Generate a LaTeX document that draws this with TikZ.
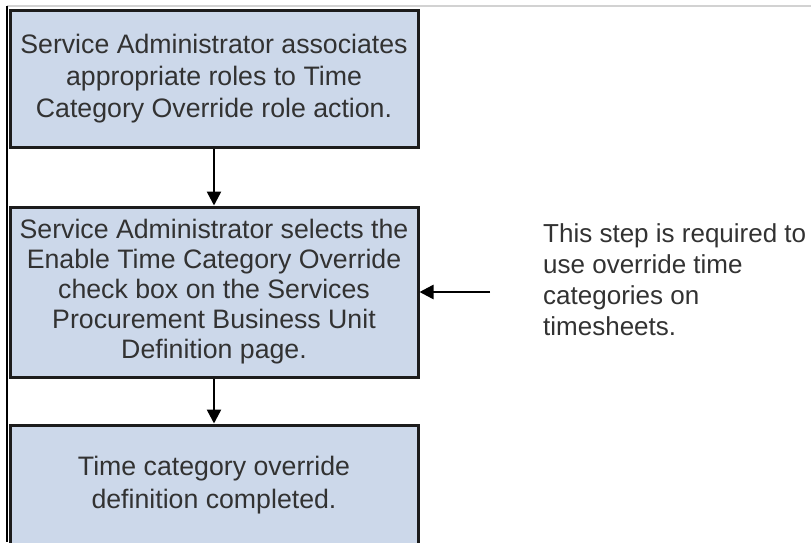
\documentclass[tikz,border=0pt]{standalone}
\usepackage{fontspec}
\setmainfont{Liberation Sans}
\usetikzlibrary{arrows.meta, positioning, shadows}

\definecolor{boxfill}{RGB}{204,216,234}
\definecolor{boxline}{RGB}{28,28,28}
\definecolor{txtgray}{RGB}{50,50,50}

\tikzset{
    stepbox/.style={draw=boxline, line width=3pt, fill=boxfill, minimum width=408pt,
        align=center, inner sep=0pt, text=txtgray,
        drop shadow={shadow xshift=1.5pt, shadow yshift=-1.5pt, fill=black, opacity=0.3}},
    flow/.style={line width=2.5pt, -{Triangle[width=14pt, length=14pt]}},
}

\begin{document}
\begin{tikzpicture}[x=1pt, y=-1pt]
    \clip (0, 0) rectangle (811, 542);

    % frame lines
    \draw[gray!35, line width=1.5pt] (7, 6) -- (811, 6);
    \draw[black, line width=2pt] (7, 6) -- (7, 542);

    % steps
    \node[stepbox, minimum height=137, font=\fontsize{26.7}{32}\selectfont] (assign) at (214, 78.5)
        {Service Administrator associates\\ appropriate roles to Time\\ Category Override role action.};
    \node[stepbox, minimum height=170, font=\fontsize{26.7}{30}\selectfont] (enable) at (214, 292)
        {Service Administrator selects the\\ Enable Time Category Override\\ check box on the Services\\ Procurement Business Unit\\ Definition page.};
    \node[stepbox, minimum height=120, font=\fontsize{26.7}{33}\selectfont] (done) at (214, 485)
        {Time category override\\ definition completed.};

    % note on the right
    \node[anchor=north west, align=left, inner sep=0pt, text=txtgray,
        font=\fontsize{26}{31}\selectfont] (note) at (543, 223)
        {This step is required to\\ use override time\\ categories on\\ timesheets.};
    \coordinate (noteend) at (490, 292);

    % arrows
    \draw[flow] (assign) -- (enable);
    \draw[flow] (enable) -- (done);
    \draw[flow] (noteend) -- (enable.east);
\end{tikzpicture}
\end{document}
